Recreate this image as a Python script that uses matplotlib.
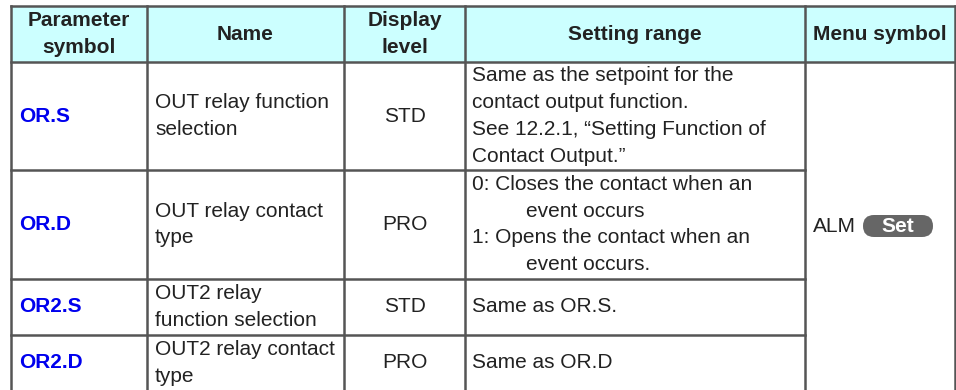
import matplotlib.pyplot as plt
from matplotlib.patches import Rectangle, FancyBboxPatch

plt.rcParams['font.family'] = ['Liberation Sans', 'DejaVu Sans']

# table content
headers = [["Parameter", "symbol"], ["Name"], ["Display", "level"],
           ["Setting range"], ["Menu symbol"]]
symbols = ["OR.S", "OR.D", "OR2.S", "OR2.D"]
names = [["OUT relay function", "selection"],
         ["OUT relay contact", "type"],
         ["OUT2 relay", "function selection"],
         ["OUT2 relay contact", "type"]]
levels = ["STD", "PRO", "STD", "PRO"]
ranges = [[("Same as the setpoint for the", 0), ("contact output function.", 0),
           ("See 12.2.1, \u201cSetting Function of", 0), ("Contact Output.\u201d", 0)],
          [("0: Closes the contact when an", 0), ("event occurs", 1),
           ("1: Opens the contact when an", 0), ("event occurs.", 1)],
          [("Same as OR.S.", 0)],
          [("Same as OR.D", 0)]]
menu_text = "ALM"
menu_key = "Set"

# layout (pixels)
col_x = [11, 147, 344, 465, 805, 955]
row_y = [6, 62, 170, 279, 335, 400]
lh = 26.8
fs = 15
line_c = "#555555"
txt_c = "#222222"

fig = plt.figure(figsize=(9.56, 3.9), dpi=100)
ax = fig.add_axes([0, 0, 1, 1])
ax.set_xlim(0, 956)
ax.set_ylim(390, 0)
ax.axis("off")

ax.add_patch(Rectangle((col_x[0], row_y[0]), col_x[-1] - col_x[0], row_y[1] - row_y[0],
                       facecolor="#ccffff", edgecolor="none"))


def block(x, cy, lines, ha="left", **kw):
    n = len(lines)
    top = cy - (n - 1) * lh / 2
    for i, s in enumerate(lines):
        ax.text(x, top + i * lh + 5.5, s, ha=ha, va="baseline", fontsize=fs,
                color=kw.get("color", txt_c), fontweight=kw.get("weight", "normal"))


# header
hc = (row_y[0] + row_y[1]) / 2
for j, h in enumerate(headers):
    block((col_x[j] + col_x[j + 1]) / 2, hc, h, ha="center", weight="bold")

# body rows
for i in range(4):
    cy = (row_y[i + 1] + min(row_y[i + 2], 390)) / 2
    if i == 3:
        cy = 363
    block(col_x[0] + 8, cy, [symbols[i]], color="#0000ee", weight="bold")
    block(col_x[1] + 8, cy, names[i])
    block((col_x[2] + col_x[3]) / 2, cy, [levels[i]], ha="center")
    lines = ranges[i]
    n = len(lines)
    top = cy - (n - 1) * lh / 2
    for k, (s, ind) in enumerate(lines):
        ax.text(col_x[3] + 7 + ind * 54, top + k * lh + 5.5, s, ha="left",
                va="baseline", fontsize=fs, color=txt_c)

# merged menu symbol cell
my = 226
ax.text(col_x[4] + 8, my + 5.5, menu_text, fontsize=fs, color=txt_c, va="baseline")
ax.add_patch(FancyBboxPatch((863, my - 11), 70, 22,
                            boxstyle="round,pad=0,rounding_size=11",
                            facecolor="#666666", edgecolor="none"))
ax.text(898, my + 0.5, menu_key, ha="center", va="center", fontsize=15,
        color="white", fontweight="bold")

# grid lines
lw = 1.8
for x in col_x:
    ax.plot([x, x], [row_y[0], 390], color=line_c, lw=lw)
ax.plot([col_x[0], col_x[-1]], [row_y[0], row_y[0]], color=line_c, lw=lw)
ax.plot([col_x[0], col_x[-1]], [row_y[1], row_y[1]], color=line_c, lw=lw)
for y in row_y[2:5]:
    ax.plot([col_x[0], col_x[4]], [y, y], color=line_c, lw=lw)

fig.savefig("out.png", dpi=100)
